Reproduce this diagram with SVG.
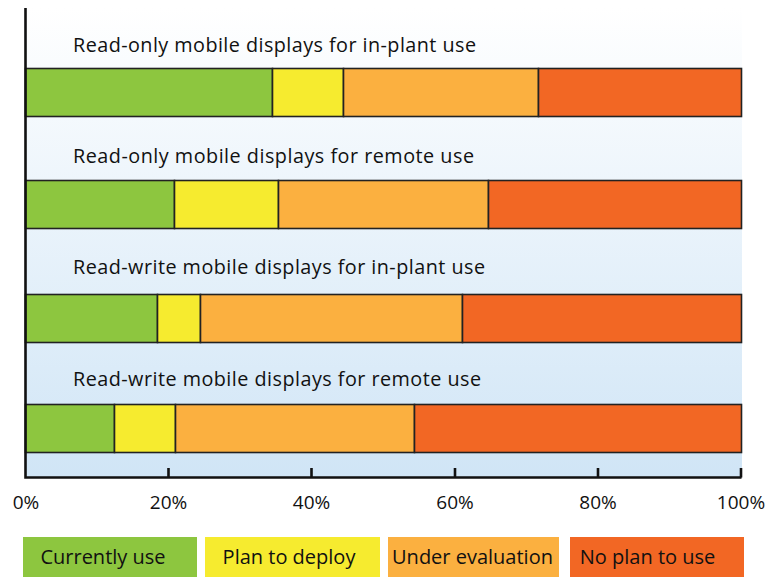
<svg xmlns="http://www.w3.org/2000/svg" width="780" height="577" viewBox="0 0 780 577">
<defs>
<linearGradient id="bg" x1="0" y1="0" x2="0" y2="1">
<stop offset="0" stop-color="#ffffff"/>
<stop offset="1" stop-color="#d0e5f6"/>
</linearGradient>
</defs>
<style>
.seg{stroke:#222;stroke-width:1.6}
.g{fill:#8dc63f}.y{fill:#f6eb2f}.o{fill:#fbb040}.r{fill:#f26724}
.lbl{font-family:"Open Sans","Liberation Sans",Arial,sans-serif;font-size:19.8px;fill:#111}
.ax{font-family:"Open Sans","Liberation Sans",Arial,sans-serif;font-size:19px;fill:#111;text-anchor:middle}
.leg{font-family:"Open Sans","Liberation Sans",Arial,sans-serif;font-size:20px;fill:#111;text-anchor:middle}
.axis{stroke:#111;stroke-width:2.6;fill:none}
</style>
<rect x="25" y="8" width="717" height="470" fill="url(#bg)"/>
<g id="row1">
<text class="lbl" x="73" y="52" textLength="403">Read-only mobile displays for in-plant use</text>
<rect class="seg g" x="25.5" y="68.5" width="247" height="48"/>
<rect class="seg y" x="272.5" y="68.5" width="71" height="48"/>
<rect class="seg o" x="343.5" y="68.5" width="195" height="48"/>
<rect class="seg r" x="538.5" y="68.5" width="203" height="48"/>
</g>
<g id="row2">
<text class="lbl" x="73" y="163" textLength="401">Read-only mobile displays for remote use</text>
<rect class="seg g" x="25.5" y="180.5" width="149" height="48"/>
<rect class="seg y" x="174.5" y="180.5" width="104" height="48"/>
<rect class="seg o" x="278.5" y="180.5" width="210" height="48"/>
<rect class="seg r" x="488.5" y="180.5" width="253" height="48"/>
</g>
<g id="row3">
<text class="lbl" x="73" y="274" textLength="412">Read-write mobile displays for in-plant use</text>
<rect class="seg g" x="25.5" y="294.5" width="132" height="48"/>
<rect class="seg y" x="157.5" y="294.5" width="43" height="48"/>
<rect class="seg o" x="200.5" y="294.5" width="262" height="48"/>
<rect class="seg r" x="462.5" y="294.5" width="279" height="48"/>
</g>
<g id="row4">
<text class="lbl" x="73" y="386" textLength="408">Read-write mobile displays for remote use</text>
<rect class="seg g" x="25.5" y="404.5" width="89" height="48"/>
<rect class="seg y" x="114.5" y="404.5" width="61" height="48"/>
<rect class="seg o" x="175.5" y="404.5" width="239" height="48"/>
<rect class="seg r" x="414.5" y="404.5" width="327" height="48"/>
</g>
<g id="axes">
<path class="axis" d="M25.5 8 V477.5 H741.5 M168.5 477.5 V468 M311.5 477.5 V468 M455 477.5 V468 M598 477.5 V468 M741 477.5 V468"/>
<text class="ax" x="26" y="509">0%</text>
<text class="ax" x="168.5" y="509">20%</text>
<text class="ax" x="311.5" y="509">40%</text>
<text class="ax" x="455" y="509">60%</text>
<text class="ax" x="598" y="509">80%</text>
<text class="ax" x="741" y="509">100%</text>
</g>
<g id="legend">
<rect class="g" x="23" y="537" width="174" height="40"/>
<text class="leg" x="103" y="564">Currently use</text>
<rect class="y" x="205" y="537" width="175" height="40"/>
<text class="leg" x="289" y="564">Plan to deploy</text>
<rect class="o" x="388" y="537" width="171" height="40"/>
<text class="leg" x="472.5" y="564">Under evaluation</text>
<rect class="r" x="570" y="537" width="174" height="40"/>
<text class="leg" x="647.5" y="564">No plan to use</text>
</g>
</svg>
